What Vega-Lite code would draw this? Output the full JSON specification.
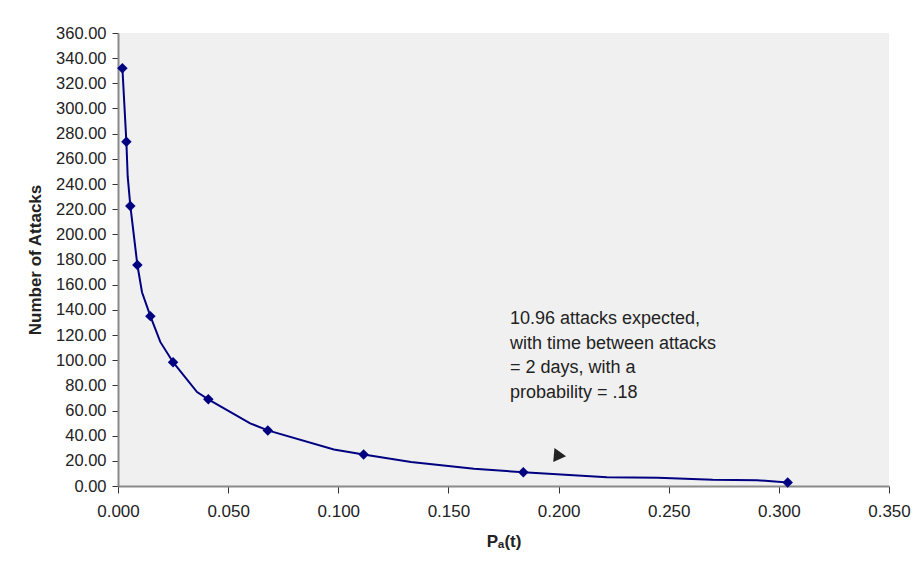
{
  "$schema": "https://vega.github.io/schema/vega-lite/v6.json",
  "width": 771,
  "height": 453,
  "autosize": {"type": "none"},
  "padding": {"left": 118, "top": 33, "right": 30, "bottom": 83},
  "background": "#ffffff",
  "config": {
    "view": {"fill": "#f0f0f0", "stroke": null},
    "font": "Liberation Sans"
  },
  "datasets": {
    "markers": [
      {"p": 0.002, "n": 332.0},
      {"p": 0.0038, "n": 273.6},
      {"p": 0.0056, "n": 222.6},
      {"p": 0.0088, "n": 175.6},
      {"p": 0.0147, "n": 135.0},
      {"p": 0.025, "n": 98.4},
      {"p": 0.041, "n": 68.9},
      {"p": 0.068, "n": 44.2},
      {"p": 0.1115, "n": 25.1},
      {"p": 0.184, "n": 10.96},
      {"p": 0.304, "n": 2.8}
    ],
    "curve": [
      {"p": 0.002, "n": 332.0},
      {"p": 0.0038, "n": 273.6},
      {"p": 0.0044, "n": 246.0},
      {"p": 0.0056, "n": 222.6},
      {"p": 0.0088, "n": 175.6},
      {"p": 0.0109, "n": 154.0},
      {"p": 0.0147, "n": 135.0},
      {"p": 0.0192, "n": 114.5},
      {"p": 0.025, "n": 98.4},
      {"p": 0.0359, "n": 74.7},
      {"p": 0.041, "n": 68.9},
      {"p": 0.06, "n": 49.8},
      {"p": 0.068, "n": 44.2},
      {"p": 0.098, "n": 29.0},
      {"p": 0.1115, "n": 25.1},
      {"p": 0.133, "n": 19.0},
      {"p": 0.1616, "n": 13.7},
      {"p": 0.184, "n": 10.96},
      {"p": 0.222, "n": 7.0},
      {"p": 0.245, "n": 6.6},
      {"p": 0.27, "n": 5.0},
      {"p": 0.29, "n": 4.6},
      {"p": 0.304, "n": 2.8}
    ],
    "note": [
      {"p": 0.1779, "n": 139.5, "text": ["10.96 attacks expected,", "with time between attacks", "=  2 days, with a", "probability = .18"]}
    ],
    "arrow": [
      {"p": 0.1997, "n": 24.3}
    ]
  },
  "encoding": {
    "x": {"field": "p", "type": "quantitative", "scale": {"domain": [0, 0.35], "nice": false, "zero": false}, "axis": {"values": [0, 0.05, 0.1, 0.15, 0.2, 0.25, 0.3, 0.35], "format": ".3f", "title": "Pₐ(t)", "grid": false, "labelFont": "Liberation Sans", "titleFont": "Liberation Sans", "labelColor": "#222222", "titleColor": "#222222", "domainColor": "#8a8a8a", "domainWidth": 2, "tickColor": "#333333", "tickSize": 7, "labelFontSize": 17, "titleFontSize": 17, "titleFontWeight": "bold", "labelOverlap": false, "labelFlush": false, "labelBound": false, "labelSeparation": 0, "labelPadding": 10, "titlePadding": 14}},
    "y": {"field": "n", "type": "quantitative", "scale": {"domain": [0, 360], "nice": false}, "axis": {"values": [0, 20, 40, 60, 80, 100, 120, 140, 160, 180, 200, 220, 240, 260, 280, 300, 320, 340, 360], "format": ".2f", "title": "Number of Attacks", "grid": false, "labelFont": "Liberation Sans", "titleFont": "Liberation Sans", "labelColor": "#222222", "titleColor": "#222222", "domainColor": "#8a8a8a", "domainWidth": 2, "tickColor": "#333333", "tickSize": 6, "labelFontSize": 16.5, "labelLineHeight": 16.5, "titleFontSize": 17, "titleFontWeight": "bold", "labelOverlap": false, "labelFlush": false, "labelBound": false, "labelSeparation": 0, "labelPadding": 6, "titlePadding": 11}}
  },
  "layer": [
    {
      "data": {"name": "curve"},
      "mark": {"type": "line", "color": "#000080", "strokeWidth": 2},
      "encoding": {
        "order": {"field": "p", "type": "quantitative"}
      }
    },
    {
      "data": {"name": "markers"},
      "mark": {"type": "point", "shape": "diamond", "filled": true, "color": "#000080", "size": 110, "opacity": 1}
    },
    {
      "data": {"name": "note"},
      "mark": {"type": "text", "align": "left", "baseline": "top", "fontSize": 18, "lineHeight": 24.5, "color": "#222222", "font": "Liberation Sans"},
      "encoding": {
        "text": {"field": "text"}
      }
    },
    {
      "data": {"name": "arrow"},
      "mark": {"type": "point", "shape": "triangle", "filled": true, "color": "#222222", "size": 200, "angle": 95, "opacity": 1}
    }
  ]
}
